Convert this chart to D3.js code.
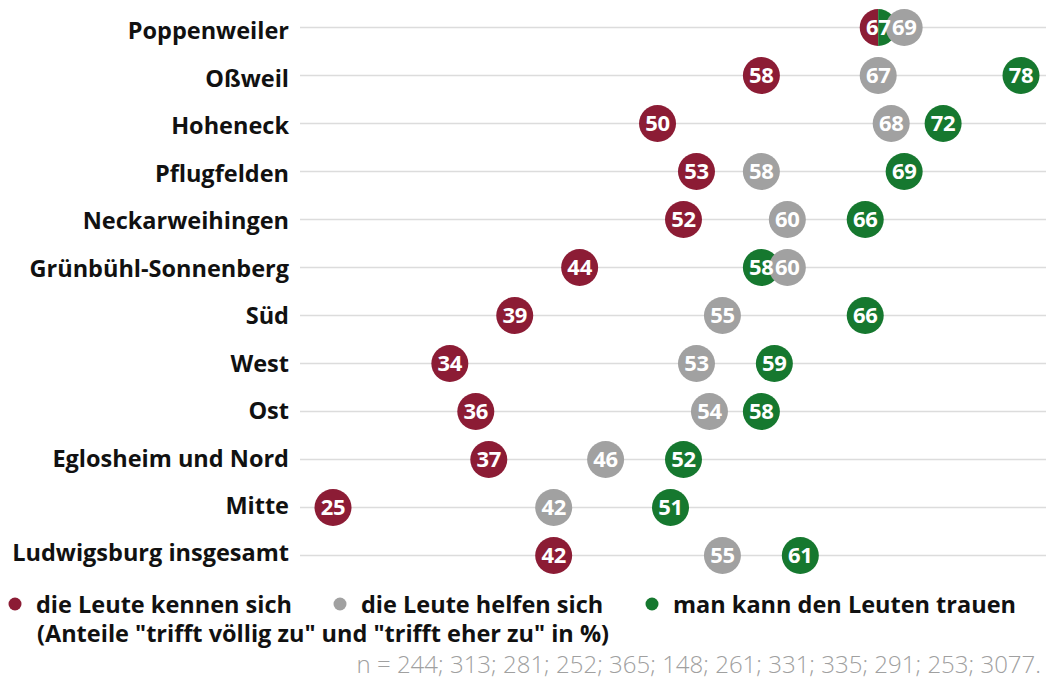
<!DOCTYPE html>
<html>
<head>
<meta charset="utf-8">
<script src="https://cdn.jsdelivr.net/npm/d3@7"></script>
<style>
  body { margin: 0; background: #fff; }
  svg { display: block; font-family: "Open Sans", sans-serif; }
</style>
</head>
<body>
<div id="chart"></div>
<script>
const categories = ['Poppenweiler', 'Oßweil', 'Hoheneck', 'Pflugfelden', 'Neckarweihingen',
  'Grünbühl-Sonnenberg', 'Süd', 'West', 'Ost', 'Eglosheim und Nord', 'Mitte', 'Ludwigsburg insgesamt'];
const kennen = [67, 58, 50, 53, 52, 44, 39, 34, 36, 37, 25, 42];
const helfen = [69, 67, 68, 58, 60, 60, 55, 53, 54, 46, 42, 55];
const trauen = [67, 78, 72, 69, 66, 58, 66, 59, 58, 52, 51, 61];
const nValues = [244, 313, 281, 252, 365, 148, 261, 331, 335, 291, 253, 3077];

const seriesNames = ['die Leute kennen sich', 'die Leute helfen sich', 'man kann den Leuten trauen'];
const seriesColors = ['#8c1c35', '#a1a1a1', '#16782f'];

const width = 1046, height = 679;
const R = 18.5;

const svg = d3.select('#chart').append('svg')
  .attr('width', width)
  .attr('height', height);

const x = d3.scaleLinear().domain([25, 78]).range([333, 1021]);
const y = d3.scalePoint().domain(categories).range([27.5, 555.5]);
// labels sit on a slightly tighter grid than the dots
const yLabel = d3.scalePoint().domain(categories).range([31, 553]);

// Gridlines
svg.append('g')
  .selectAll('line')
  .data(categories)
  .join('line')
  .attr('x1', 300)
  .attr('x2', width)
  .attr('y1', d => y(d))
  .attr('y2', d => y(d))
  .attr('stroke', '#dcdcdc')
  .attr('stroke-width', 1.5);

// Row labels
svg.append('g')
  .selectAll('text')
  .data(categories)
  .join('text')
  .attr('x', 289)
  .attr('y', d => yLabel(d))
  .attr('dy', '0.36em')
  .attr('text-anchor', 'end')
  .attr('font-size', 23.5)
  .attr('font-weight', 700)
  .attr('fill', '#111')
  .text(d => d);

// dots: red, green, gray (gray on top)
const rows = categories.map((c, i) => ({ c, k: kennen[i], h: helfen[i], t: trauen[i] }));
const dots = svg.append('g');
const arc = d3.arc().innerRadius(0).outerRadius(R);

rows.forEach(r => {
  if (r.k === r.t) {
    // equal values: split circle
    dots.append('path')
      .attr('transform', `translate(${x(r.k)},${y(r.c)})`)
      .attr('d', arc({ startAngle: Math.PI, endAngle: 2 * Math.PI }))
      .attr('fill', seriesColors[0]);
    dots.append('path')
      .attr('transform', `translate(${x(r.t)},${y(r.c)})`)
      .attr('d', arc({ startAngle: 0, endAngle: Math.PI }))
      .attr('fill', seriesColors[2]);
  } else {
    dots.append('circle').attr('cx', x(r.k)).attr('cy', y(r.c)).attr('r', R).attr('fill', seriesColors[0]);
    dots.append('circle').attr('cx', x(r.t)).attr('cy', y(r.c)).attr('r', R).attr('fill', seriesColors[2]);
  }
  dots.append('circle').attr('cx', x(r.h)).attr('cy', y(r.c)).attr('r', R).attr('fill', seriesColors[1]);
});

// value labels
const labels = [];
rows.forEach(r => {
  labels.push({ c: r.c, v: r.k });
  if (r.k !== r.t) labels.push({ c: r.c, v: r.t });
  labels.push({ c: r.c, v: r.h });
});
svg.append('g')
  .selectAll('text')
  .data(labels)
  .join('text')
  .attr('x', d => x(d.v))
  .attr('y', d => y(d.c))
  .attr('dy', '0.36em')
  .attr('text-anchor', 'middle')
  .attr('font-size', 22)
  .attr('font-weight', 700)
  .attr('fill', '#fff')
  .attr('letter-spacing', -0.3)
  .text(d => d.v);

// Legend
const legendX = [15, 340, 652];
const legend = svg.append('g');
seriesNames.forEach((name, i) => {
  legend.append('circle')
    .attr('cx', legendX[i])
    .attr('cy', 604)
    .attr('r', 6.5)
    .attr('fill', seriesColors[i]);
  legend.append('text')
    .attr('x', legendX[i] + 21)
    .attr('y', 613)
    .attr('font-size', 23.5)
    .attr('font-weight', 700)
    .attr('fill', '#111')
    .text(name);
});
legend.append('text')
  .attr('x', 37)
  .attr('y', 642)
  .attr('font-size', 23.5)
  .attr('font-weight', 700)
  .attr('fill', '#111')
  .text('(Anteile "trifft völlig zu" und "trifft eher zu" in %)');

// sample sizes
svg.append('text')
  .attr('x', 1041)
  .attr('y', 673)
  .attr('text-anchor', 'end')
  .attr('font-size', 24)
  .attr('font-weight', 300)
  .attr('fill', '#a0a0a0')
  .text('n = ' + nValues.join('; ') + '.');
</script>
</body>
</html>
